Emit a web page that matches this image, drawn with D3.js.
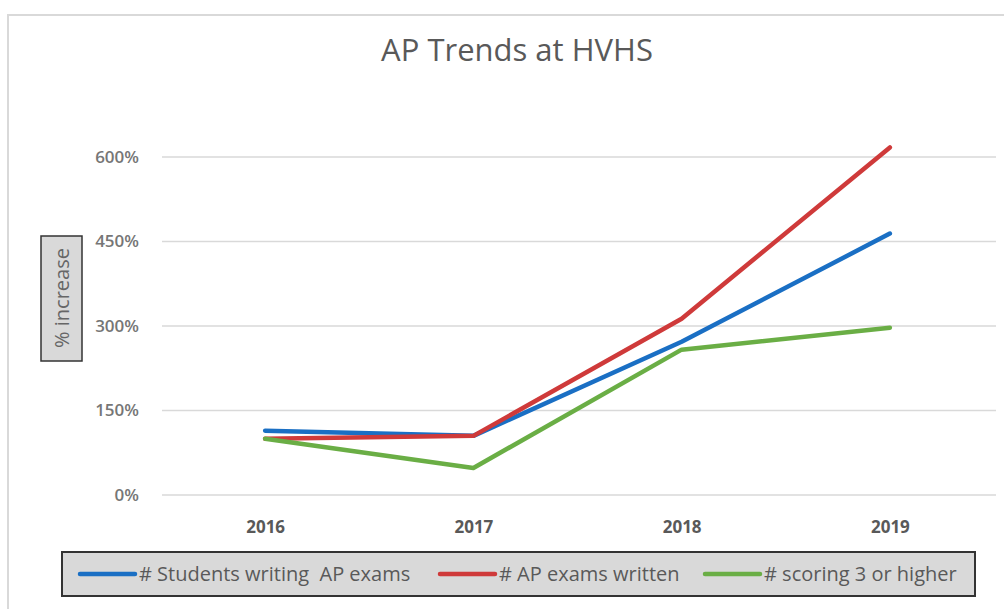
<!DOCTYPE html>
<html>
<head>
<meta charset="utf-8">
<title>AP Trends at HVHS</title>
<style type="text/css">
body {margin: 0; background: #fff;}
svg {display: block; font-family: "Open Sans", sans-serif;}
</style>
</head>
<body>
<svg width="1004" height="609"></svg>
<script src="https://d3js.org/d3.v7.min.js"></script>
<script>
// data
var years = ["2016", "2017", "2018", "2019"];
var students = [114, 105, 272, 464];
var examsWritten = [100, 105, 313, 617];
var scoring3 = [100, 48, 258, 297];
var seriesNames = ["# Students writing  AP exams", "# AP exams written", "# scoring 3 or higher"];
var seriesColors = ["#1a6fc4", "#cf3a3a", "#6aae45"];
var yTicks = [0, 150, 300, 450, 600];

var series = [students, examsWritten, scoring3].map(function(v, i) {
    return {name: seriesNames[i], color: seriesColors[i], values: v};
});

var svg = d3.select("svg");

// outer frame
svg.append("rect")
    .attr("x", 8).attr("y", 15)
    .attr("width", 1000).attr("height", 600)
    .attr("fill", "#fff")
    .attr("stroke", "#d9d9d9")
    .attr("stroke-width", 2);

svg.append("text")
    .attr("x", 517).attr("y", 61)
    .attr("text-anchor", "middle")
    .attr("fill", "#595959")
    .attr("font-size", 31)
    .text("AP Trends at HVHS");

var x = d3.scalePoint()
    .domain(years)
    .range([161, 994])
    .padding(0.5);

var y = d3.scaleLinear()
    .domain([0, 600])
    .range([495, 157]);

// grid
svg.append("g")
    .selectAll("line")
    .data(yTicks)
    .enter().append("line")
    .attr("x1", 162).attr("x2", 996)
    .attr("y1", function(d) { return y(d); })
    .attr("y2", function(d) { return y(d); })
    .attr("stroke", "#d9d9d9")
    .attr("stroke-width", 1.5);

// y axis labels
var yAxis = svg.append("g")
    .attr("transform", "translate(139,0)")
    .call(d3.axisLeft(y).tickValues(yTicks).tickSize(0).tickPadding(0)
        .tickFormat(function(d) { return d + "%"; }));
yAxis.select(".domain").remove();
yAxis.selectAll("text")
    .attr("fill", "#767676")
    .attr("font-size", 17)
    .attr("font-weight", 600)
    .attr("font-family", "Open Sans, sans-serif");

// x axis labels
var xAxis = svg.append("g")
    .attr("transform", "translate(0,521)")
    .call(d3.axisBottom(x).tickSize(0).tickPadding(0));
xAxis.select(".domain").remove();
xAxis.selectAll("text")
    .attr("fill", "#595959")
    .attr("font-size", 17)
    .attr("font-weight", "bold")
    .attr("font-family", "Open Sans, sans-serif");

// y axis title box
svg.append("rect")
    .attr("x", 41).attr("y", 236)
    .attr("width", 41).attr("height", 125)
    .attr("fill", "#d9d9d9")
    .attr("stroke", "#333")
    .attr("stroke-width", 1.5);
svg.append("text")
    .attr("transform", "translate(69,298) rotate(-90)")
    .attr("text-anchor", "middle")
    .attr("fill", "#666")
    .attr("font-size", 20)
    .text("% increase");

// lines
var line = d3.line()
    .x(function(d, i) { return x(years[i]); })
    .y(function(d) { return y(d); });

svg.append("g")
    .selectAll("path")
    .data(series)
    .enter().append("path")
    .attr("d", function(d) { return line(d.values); })
    .attr("fill", "none")
    .attr("stroke", function(d) { return d.color; })
    .attr("stroke-width", 4.5)
    .attr("stroke-linecap", "round")
    .attr("stroke-linejoin", "round");

// legend
svg.append("rect")
    .attr("x", 62).attr("y", 552)
    .attr("width", 913).attr("height", 44)
    .attr("fill", "#d9d9d9")
    .attr("stroke", "#333")
    .attr("stroke-width", 2);

var legendX = [80, 440, 705];
var legend = svg.append("g")
    .selectAll("g")
    .data(series)
    .enter().append("g")
    .attr("transform", function(d, i) { return "translate(" + legendX[i] + ",574)"; });
legend.append("line")
    .attr("x1", 0).attr("x2", 55)
    .attr("stroke", function(d) { return d.color; })
    .attr("stroke-width", 4.5)
    .attr("stroke-linecap", "round");
legend.append("text")
    .attr("x", 59)
    .attr("dy", "0.35em")
    .attr("fill", "#595959")
    .attr("font-size", 20)
    .attr("xml:space", "preserve")
    .style("white-space", "pre")
    .text(function(d) { return d.name; });
</script>
</body>
</html>
